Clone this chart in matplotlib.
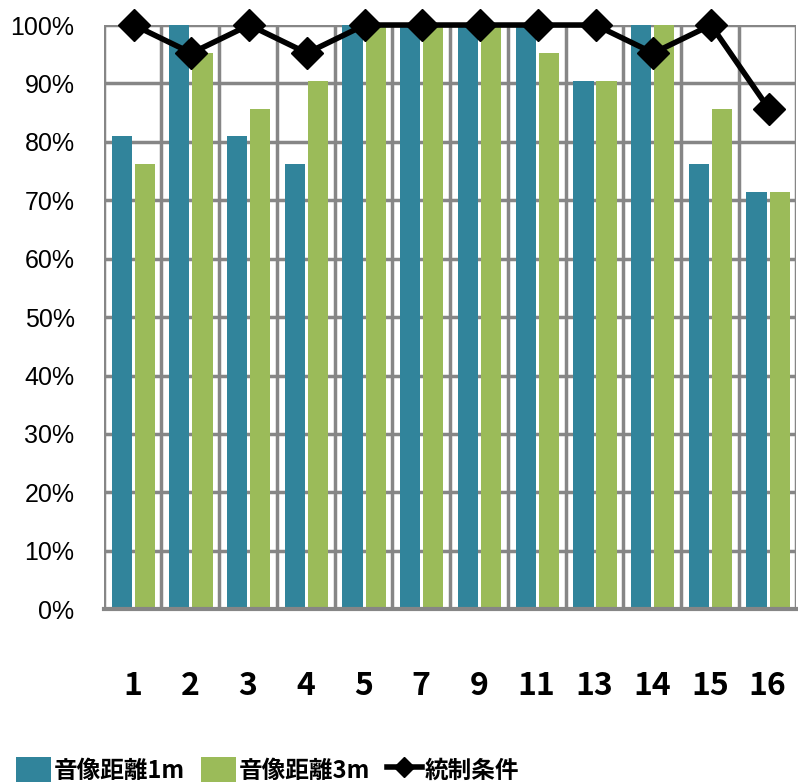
import numpy as np
import matplotlib.pyplot as plt

plt.rcParams['font.family'] = ['Noto Sans CJK JP', 'DejaVu Sans']

categories = ['1', '2', '3', '4', '5', '7', '9', '11', '13', '14', '15', '16']
dist_1m = [81.0, 100.0, 81.0, 76.2, 100.0, 100.0, 100.0, 100.0, 90.5, 100.0, 76.2, 71.4]
dist_3m = [76.2, 95.2, 85.7, 90.5, 100.0, 100.0, 100.0, 95.2, 90.5, 100.0, 85.7, 71.4]
control = [100.0, 95.2, 100.0, 95.2, 100.0, 100.0, 100.0, 100.0, 100.0, 95.2, 100.0, 85.7]

labels = ['音像距離1m', '音像距離3m', '統制条件']
teal = '#31849B'
green = '#9BBB59'
grid_c = '#868686'

fig = plt.figure(figsize=(7.98, 7.82), dpi=100)
ax = fig.add_axes([0.130, 0.221, 0.868, 0.747])

x = np.arange(len(categories))
w = 0.35
b1 = ax.bar(x - 0.19, dist_1m, w, color=teal, label=labels[0], zorder=2)
b2 = ax.bar(x + 0.21, dist_3m, w, color=green, label=labels[1], zorder=2)
ln, = ax.plot(x + 0.02, control, color='black', lw=4, marker='D', ms=16,
              label=labels[2], zorder=3, clip_on=False)

ax.set_xlim(-0.5, len(categories) - 0.5)
ax.set_ylim(0, 100)
ax.set_yticks(np.arange(0, 101, 10))
ax.set_yticklabels([f'{v}%' for v in range(0, 101, 10)], fontsize=18,
                   family=['Liberation Sans'])
ax.set_xticks(x)
ax.set_xticklabels(categories, fontsize=23, fontweight='bold')
ax.set_xticks(np.arange(-0.5, len(categories)), minor=True)

ax.grid(axis='y', which='major', color=grid_c, lw=2.5, zorder=0)
ax.grid(axis='x', which='minor', color=grid_c, lw=2.5, zorder=0)
ax.tick_params(axis='both', which='both', length=0)
ax.tick_params(axis='x', pad=44)
ax.tick_params(axis='y', pad=21)
for s in ['top', 'right', 'left']:
    ax.spines[s].set_visible(False)
ax.spines['bottom'].set_color(grid_c)
ax.spines['bottom'].set_linewidth(3)

fig.legend(handles=[b1, b2, ln], loc='lower center', ncol=3,
           bbox_to_anchor=(0.335, -0.028), markerscale=0.65,
           frameon=False, prop={'size': 17, 'weight': 'bold'},
           handlelength=1.5, handleheight=1.3, columnspacing=0.7,
           handletextpad=0.1)

fig.savefig('out.png', dpi=100)
